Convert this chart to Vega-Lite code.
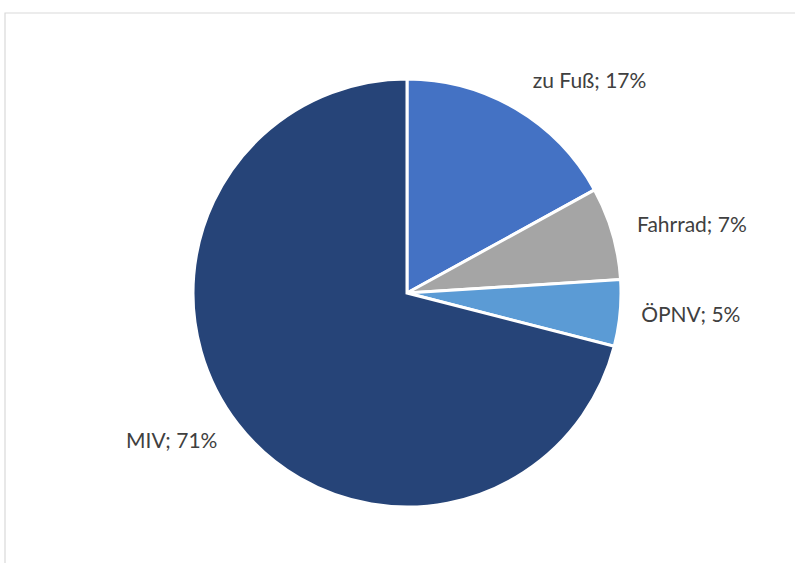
{
  "$schema": "https://vega.github.io/schema/vega-lite/v6.json",
  "width": 790,
  "height": 550,
  "autosize": {"type": "none"},
  "padding": {"left": 5, "top": 13, "right": 0, "bottom": 0},
  "background": "white",
  "config": {"view": {"stroke": null}},
  "data": {
    "values": [
      {"cat": "zu Fuß", "pct": 17, "order": 1, "label": "zu Fuß; 17%"},
      {"cat": "Fahrrad", "pct": 7, "order": 2, "label": "Fahrrad; 7%"},
      {"cat": "ÖPNV", "pct": 5, "order": 3, "label": "ÖPNV; 5%"},
      {"cat": "MIV", "pct": 71, "order": 4, "label": "MIV; 71%"}
    ]
  },
  "layer": [
    {
      "data": {"values": [{"frame": 1}]},
      "mark": {"type": "rect", "fill": null, "stroke": "#D9D9D9", "strokeWidth": 1.2, "x2Offset": 20, "y2Offset": 20, "clip": false},
      "encoding": {
        "x": {"value": 0},
        "y": {"value": 0},
        "x2": {"value": "width"},
        "y2": {"value": "height"}
      }
    },
    {
      "mark": {"type": "arc", "outerRadius": 214, "stroke": "white", "strokeWidth": 3, "xOffset": 7, "yOffset": 5},
      "encoding": {
        "theta": {"field": "pct", "type": "quantitative", "stack": true},
        "order": {"field": "order", "type": "quantitative"},
        "color": {
          "field": "cat",
          "type": "nominal",
          "scale": {"domain": ["zu Fuß", "Fahrrad", "ÖPNV", "MIV"], "range": ["#4472C4", "#A5A5A5", "#5B9BD5", "#264478"]},
          "legend": null
        }
      }
    },
    {
      "mark": {"type": "text", "radius": 280, "xOffset": 7, "yOffset": 5, "dx": 40, "dy": 30, "font": "Lato", "fontSize": 21, "fill": "#404040", "align": "center", "baseline": "middle"},
      "encoding": {
        "theta": {"field": "pct", "type": "quantitative", "stack": true},
        "order": {"field": "order", "type": "quantitative"},
        "text": {"condition": {"test": "datum.cat === 'zu Fuß'", "field": "label"}, "value": ""}
      }
    },
    {
      "mark": {"type": "text", "radius": 280, "xOffset": 7, "yOffset": 5, "dx": 16, "dy": 11, "font": "Lato", "fontSize": 21, "fill": "#404040", "align": "center", "baseline": "middle"},
      "encoding": {
        "theta": {"field": "pct", "type": "quantitative", "stack": true},
        "order": {"field": "order", "type": "quantitative"},
        "text": {"condition": {"test": "datum.cat === 'Fahrrad'", "field": "label"}, "value": ""}
      }
    },
    {
      "mark": {"type": "text", "radius": 280, "xOffset": 7, "yOffset": 5, "dx": 5, "dy": -3, "font": "Lato", "fontSize": 21, "fill": "#404040", "align": "center", "baseline": "middle"},
      "encoding": {
        "theta": {"field": "pct", "type": "quantitative", "stack": true},
        "order": {"field": "order", "type": "quantitative"},
        "text": {"condition": {"test": "datum.cat === 'ÖPNV'", "field": "label"}, "value": ""}
      }
    },
    {
      "mark": {"type": "text", "radius": 280, "xOffset": 7, "yOffset": 5, "dx": -14, "dy": -23, "font": "Lato", "fontSize": 21, "fill": "#404040", "align": "center", "baseline": "middle"},
      "encoding": {
        "theta": {"field": "pct", "type": "quantitative", "stack": true},
        "order": {"field": "order", "type": "quantitative"},
        "text": {"condition": {"test": "datum.cat === 'MIV'", "field": "label"}, "value": ""}
      }
    }
  ]
}
